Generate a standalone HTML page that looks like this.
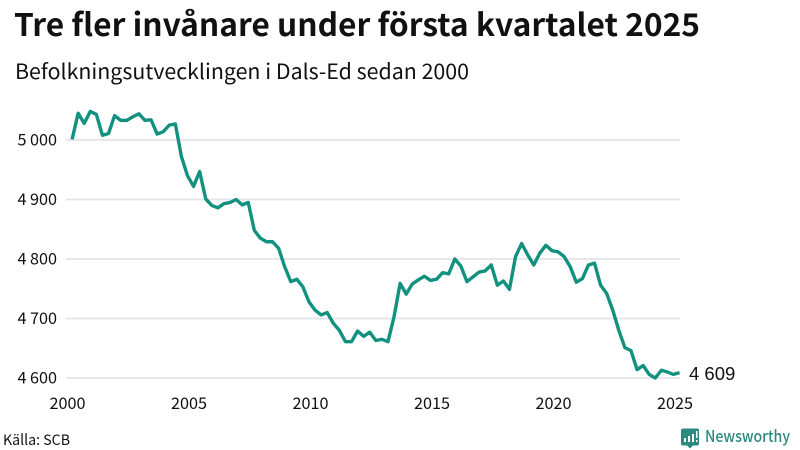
<!DOCTYPE html>
<html lang="sv">
<head>
<meta charset="utf-8">
<title>Tre fler invånare under första kvartalet 2025</title>
<style>
html,body{margin:0;padding:0;background:#fff;}
svg{display:block;}
text{font-family:"Noto Sans CJK JP","DejaVu Sans",sans-serif;fill:#111;}
.tick{font-size:16.2px;}
</style>
</head>
<body>
<svg id="chart" width="800" height="450" viewBox="0 0 800 450" xmlns="http://www.w3.org/2000/svg">
  <text x="14" y="36" font-size="31" font-weight="700" textLength="686" lengthAdjust="spacingAndGlyphs">Tre fler invånare under första kvartalet 2025</text>
  <text x="15" y="79" font-size="21" textLength="454" lengthAdjust="spacingAndGlyphs">Befolkningsutvecklingen i Dals-Ed sedan 2000</text>
  <g id="grid"></g>
  <g id="yticks"></g>
  <g id="xticks"></g>
  <path id="line" fill="none" stroke="#12917f" stroke-width="3.400" stroke-linejoin="round"></path>
  <text id="endLabel" x="689" y="380" font-size="18.500" style="font-family:'Liberation Sans',sans-serif"></text>
  <text x="3" y="445" font-size="14.5" textLength="67" lengthAdjust="spacingAndGlyphs">Källa: SCB</text>
  <g>
    <path fill="#2d8a80" d="M683 428.500h14a2 2 0 0 1 2 2v13a2 2 0 0 1-2 2h-4l-3 3-3-3h-4a2 2 0 0 1-2-2v-13a2 2 0 0 1 2-2z"></path>
    <path fill="#fff" d="M684 438h2v4h-2zM688 436h2v6h-2zM692 434h2v8h-2zM696 431h1.500v7h-1.500zM696 440h1.500v2h-1.500z"></path>
    <text x="705" y="442" font-size="16.500" font-weight="500" textLength="85" lengthAdjust="spacingAndGlyphs" style="fill:#2d8a80">Newsworthy</text>
  </g>
</svg>
<script>
const startYear = 2000.25;
const stepYears = 0.25;
const population = [
  5001,5045,5028,5048,5043,5008,5011,5041,5033,5033,
  5039,5044,5033,5034,5010,5014,5025,5027,4972,4940,
  4922,4947,4901,4890,4886,4893,4895,4900,4891,4895,
  4848,4835,4829,4829,4818,4787,4762,4766,4753,4728,
  4714,4706,4710,4692,4680,4661,4661,4679,4670,4677,
  4663,4665,4661,4703,4759,4741,4758,4765,4771,4764,
  4766,4777,4775,4800,4788,4762,4770,4778,4780,4790,
  4756,4763,4749,4804,4826,4807,4790,4810,4823,4814,
  4812,4804,4787,4761,4767,4790,4793,4756,4742,4714,
  4680,4651,4646,4614,4621,4606,4600,4613,4610,4606,
  4609
];
const yTickValues = [4600,4700,4800,4900,5000];
const yTickLabels = ["4 600","4 700","4 800","4 900","5 000"];
const xTickValues = [2000,2005,2010,2015,2020,2025];
const xTickLabels = ["2000","2005","2010","2015","2020","2025"];
const endLabelText = "4 609";

const NS = "http://www.w3.org/2000/svg";
function xScale(year){ return 66 + (year - 2000) * 24.3; }
function yScale(v){ return 378 - (v - 4600) * 0.5950; }

const grid = document.getElementById("grid");
const yticks = document.getElementById("yticks");
const xticks = document.getElementById("xticks");

yTickValues.forEach(function(v, i){
  const ln = document.createElementNS(NS, "line");
  
  
  ln.setAttribute("x1", 66);
  ln.setAttribute("x2", 680);
  ln.setAttribute("y1", yScale(v));
  ln.setAttribute("y2", yScale(v));
  ln.setAttribute("stroke", "#e3e3ea");
  ln.setAttribute("stroke-width", "1.800");
  grid.appendChild(ln);
  const t = document.createElementNS(NS, "text");
  
  
  t.setAttribute("class", "tick");
  t.setAttribute("x", 57);
  t.setAttribute("y", yScale(v) + 5.5);
  t.setAttribute("text-anchor", "end");
  t.textContent = yTickLabels[i];
  yticks.appendChild(t);
});

xTickValues.forEach(function(y, i){
  const t = document.createElementNS(NS, "text");
  
  
  t.setAttribute("class", "tick");
  t.setAttribute("x", xScale(y) + 1.5);
  t.setAttribute("y", 409);
  t.setAttribute("text-anchor", "middle");
  t.textContent = xTickLabels[i];
  xticks.appendChild(t);
});

const d = population.map(function(v, i){
  const yr = startYear + i * stepYears;
  return (i ? "L" : "M") + xScale(yr).toFixed(2) + " " + yScale(v).toFixed(2);
}).join("");
document.getElementById("line").setAttribute("d", d);
document.getElementById("endLabel").textContent = endLabelText;
</script>
</body>
</html>
